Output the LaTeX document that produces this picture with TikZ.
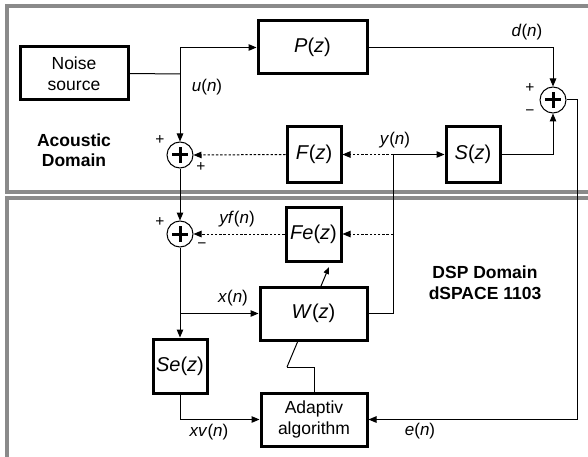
\documentclass[tikz,border=0pt]{standalone}
\usepackage{fontspec}
\setmainfont{Liberation Sans}
\usetikzlibrary{arrows.meta,positioning}
\definecolor{FrameGray}{HTML}{8A8A8A}
\newcommand{\varfn}[2]{\textit{#1}(\textit{#2})}
\tikzset{
  blockbox/.style={draw,line width=3pt,align=center,inner sep=0pt,fill=white,font=\fontsize{20}{24}\selectfont},
  textbox/.style={blockbox,font=\fontsize{17.5}{21}\selectfont},
  sumnode/.style={circle,draw,line width=1pt,minimum size=26pt,inner sep=0pt,fill=white,
    path picture={\draw[line width=3pt]
      ([xshift=-8pt]path picture bounding box.center) -- ([xshift=8pt]path picture bounding box.center)
      ([yshift=-8pt]path picture bounding box.center) -- ([yshift=8pt]path picture bounding box.center);}},
  sigline/.style={line width=1pt},
  sigarrow/.style={sigline,-{Triangle[length=8pt,width=6.5pt]}},
  dotarrow/.style={sigarrow,dash pattern=on 2.4pt off 1.8pt},
  domainframe/.style={draw=FrameGray,line width=3.5pt},
  siglabel/.style={font=\fontsize{17}{20}\selectfont,inner sep=0pt},
  signlabel/.style={font=\fontsize{15.5}{18}\selectfont,inner sep=0pt},
  domainlabel/.style={font=\bfseries\fontsize{17.5}{20.5}\selectfont,align=center}
}

\begin{document}
\begin{tikzpicture}[x=1pt,y=-1pt]
\useasboundingbox (0,0) rectangle (588,457);
% domain frames
\draw[domainframe] (592,6) -- (7,6) -- (7,192) -- (592,192);
\draw[domainframe] (592,198) -- (7,198) -- (7,462);
\node[domainlabel] (acoustic) at (74,150) {Acoustic\\Domain};
\node[domainlabel] (dsp) at (485,283) {DSP Domain\\dSPACE 1103};
% blocks
\node[textbox,minimum width=108pt,minimum height=53pt] (noise) at (74,73.5) {Noise\\source};
\node[blockbox,minimum width=109pt,minimum height=53pt] (P) at (312.5,47.5) {\varfn{P}{z}};
\node[blockbox,minimum width=54pt,minimum height=55pt] (F) at (314,154.5) {\varfn{F}{z}};
\node[blockbox,minimum width=54pt,minimum height=55pt] (S) at (473,154.5) {\varfn{S}{z}};
\node[blockbox,minimum width=55pt,minimum height=54pt] (Fe) at (313.5,234) {\varfn{Fe}{z}};
\node[blockbox,minimum width=54pt,minimum height=54pt] (Se) at (180,366) {\varfn{Se}{z}};
\node[textbox,minimum width=106pt,minimum height=53pt] (adapt) at (314,419.5) {Adaptiv\\algorithm};
% adaptation path, passes behind W(z)
\coordinate (tilt) at (287,367);
\coordinate (tiltend) at (329,267);
\draw[sigline] (adapt.north) -- (adapt.north |- tilt) -- (tilt);
\draw[sigarrow,-{Triangle[length=7pt,width=5.5pt]}] (tilt) -- (tiltend);
\node[blockbox,minimum width=107pt,minimum height=53pt] (W) at (313.5,313.5) {\varfn{W}{z}};
% summing junctions
\node[sumnode] (sum1) at (180,155) {};
\node[sumnode] (sum2) at (553,100) {};
\node[sumnode] (sum3) at (180,234) {};
% branch points
\coordinate (jn) at (180,74);
\coordinate (jy) at (393,154.5);
\coordinate (jx) at (180,313.5);
\coordinate (ecol) at (577,100);
% connectors
\draw[sigline] (noise.east) -- (jn);
\draw[sigarrow] (jn) |- (P.west);
\draw[sigarrow] (jn) -- (sum1.north);
\draw[sigarrow] (P.east) -| (sum2.north);
\draw[sigarrow] (S.east) -| (sum2.south);
\draw[sigarrow] (jy) -- (S.west);
\draw[dotarrow] (jy) -- (F.east);
\draw[dotarrow] (F.west) -- (sum1.east);
\draw[sigline] (W.east) -| (jy);
\draw[dotarrow] (jy |- Fe.east) -- (Fe.east);
\draw[dotarrow] (Fe.west) -- (sum3.east);
\draw[sigarrow] (sum1.south) -- (sum3.north);
\draw[sigarrow] (sum3.south) -- (Se.north);
\draw[sigarrow] (jx) -- (W.west);
\draw[sigarrow] (Se.south) |- (adapt.west);
\draw[sigarrow] (sum2.east) -- (ecol) |- (adapt.east);
% signal labels
\node[siglabel] (ulbl) at (207,87) {\varfn{u}{n}};
\node[siglabel] (dlbl) at (527,32) {\varfn{d}{n}};
\node[siglabel] (ylbl) at (395,140) {\varfn{y}{n}};
\node[siglabel] (yflbl) at (237,219) {\varfn{yf}{n}};
\node[siglabel] (xlbl) at (233,298) {\varfn{x}{n}};
\node[siglabel] (xvlbl) at (209,432) {\varfn{xv}{n}};
\node[siglabel] (elbl) at (420,431) {\varfn{e}{n}};
% signs
\node[signlabel] at (160,140) {+};
\node[signlabel] at (201,167) {+};
\node[signlabel] at (530,88) {+};
\node[signlabel] at (530,113) {−};
\node[signlabel] at (160,222) {+};
\node[signlabel] at (202,246) {−};
\end{tikzpicture}
\end{document}
